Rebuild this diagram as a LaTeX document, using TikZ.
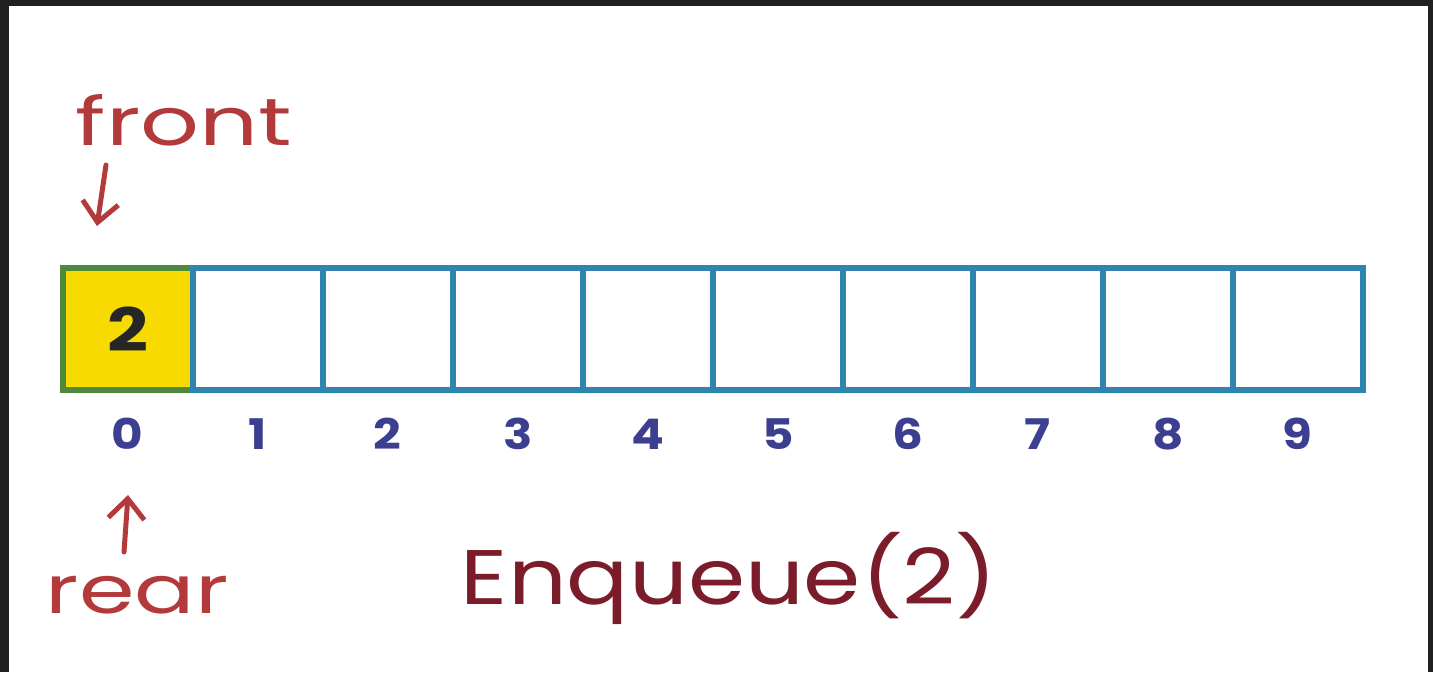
\documentclass[tikz,border=0pt]{standalone}
\usepackage{fontspec}
\setmainfont{Poppins}
\usetikzlibrary{arrows.meta}
\definecolor{frame}{HTML}{202020}
\definecolor{cellblue}{HTML}{2E86B0}
\definecolor{cellgreen}{HTML}{4F8A3C}
\definecolor{yel}{HTML}{F7DA00}
\definecolor{idx}{HTML}{3C3F90}
\definecolor{redhand}{HTML}{B33A3A}
\definecolor{darkred}{HTML}{7A1C2A}
\tikzset{
  cell/.style={draw=cellblue, line width=0.6mm, minimum width=1.305cm, minimum height=1.22cm, inner sep=0pt},
  idxlabel/.style={text=idx, font=\fontsize{12}{12}\selectfont\bfseries, xscale=1.15},
  handlabel/.style={text=redhand, font=\fontsize{19}{19}\selectfont, inner sep=0pt, xscale=1.38},
  handarrow/.style={draw=redhand, line width=0.5mm, line cap=round, -{Straight Barb[length=2mm,width=3.6mm,line width=0.5mm]}}
}
\begin{document}
\begin{tikzpicture}[x=1cm,y=1cm]
\useasboundingbox (0,0) rectangle (14.33,-6.72);
\fill[frame] (0,0) rectangle (14.33,-6.72);
\fill[white] (0.09,-0.06) rectangle (14.28,-6.72);
% cells
\foreach \i in {0,...,9} {
  \pgfmathsetmacro{\cx}{0.625+0.6525+1.3*\i}
  \ifnum\i=0
    \node[cell, fill=yel, draw=cellgreen, minimum width=1.3cm] (c\i) at (\cx,-3.29) {};
  \else
    \node[cell, minimum width=1.3cm] (c\i) at (\cx,-3.29) {};
  \fi
  \node[idxlabel] (i\i) at (\cx,-4.34) {\i};
}
\node[font=\fontsize{17}{17}\selectfont\bfseries, text=black!85, xscale=1.2] (val) at (c0.center) {2};
% labels
\node[handlabel, anchor=west] (front) at (0.75,-1.2) {front};
\node[handlabel, anchor=west, xscale=0.97] (rear) at (0.45,-5.95) {rear};
\node[text=darkred, font=\fontsize{22}{22}\selectfont, anchor=west, inner sep=0pt, xscale=1.19] (enq) at (4.6,-5.78) {Enqueue(2)};
\coordinate (fa) at (1.06,-1.65);
\coordinate (fb) at (0.97,-2.26);
\coordinate (ra) at (1.24,-5.52);
\coordinate (rb) at (1.28,-4.95);
\draw[handarrow] (fa) -- (fb);
\draw[handarrow] (ra) -- (rb);
\end{tikzpicture}
\end{document}
